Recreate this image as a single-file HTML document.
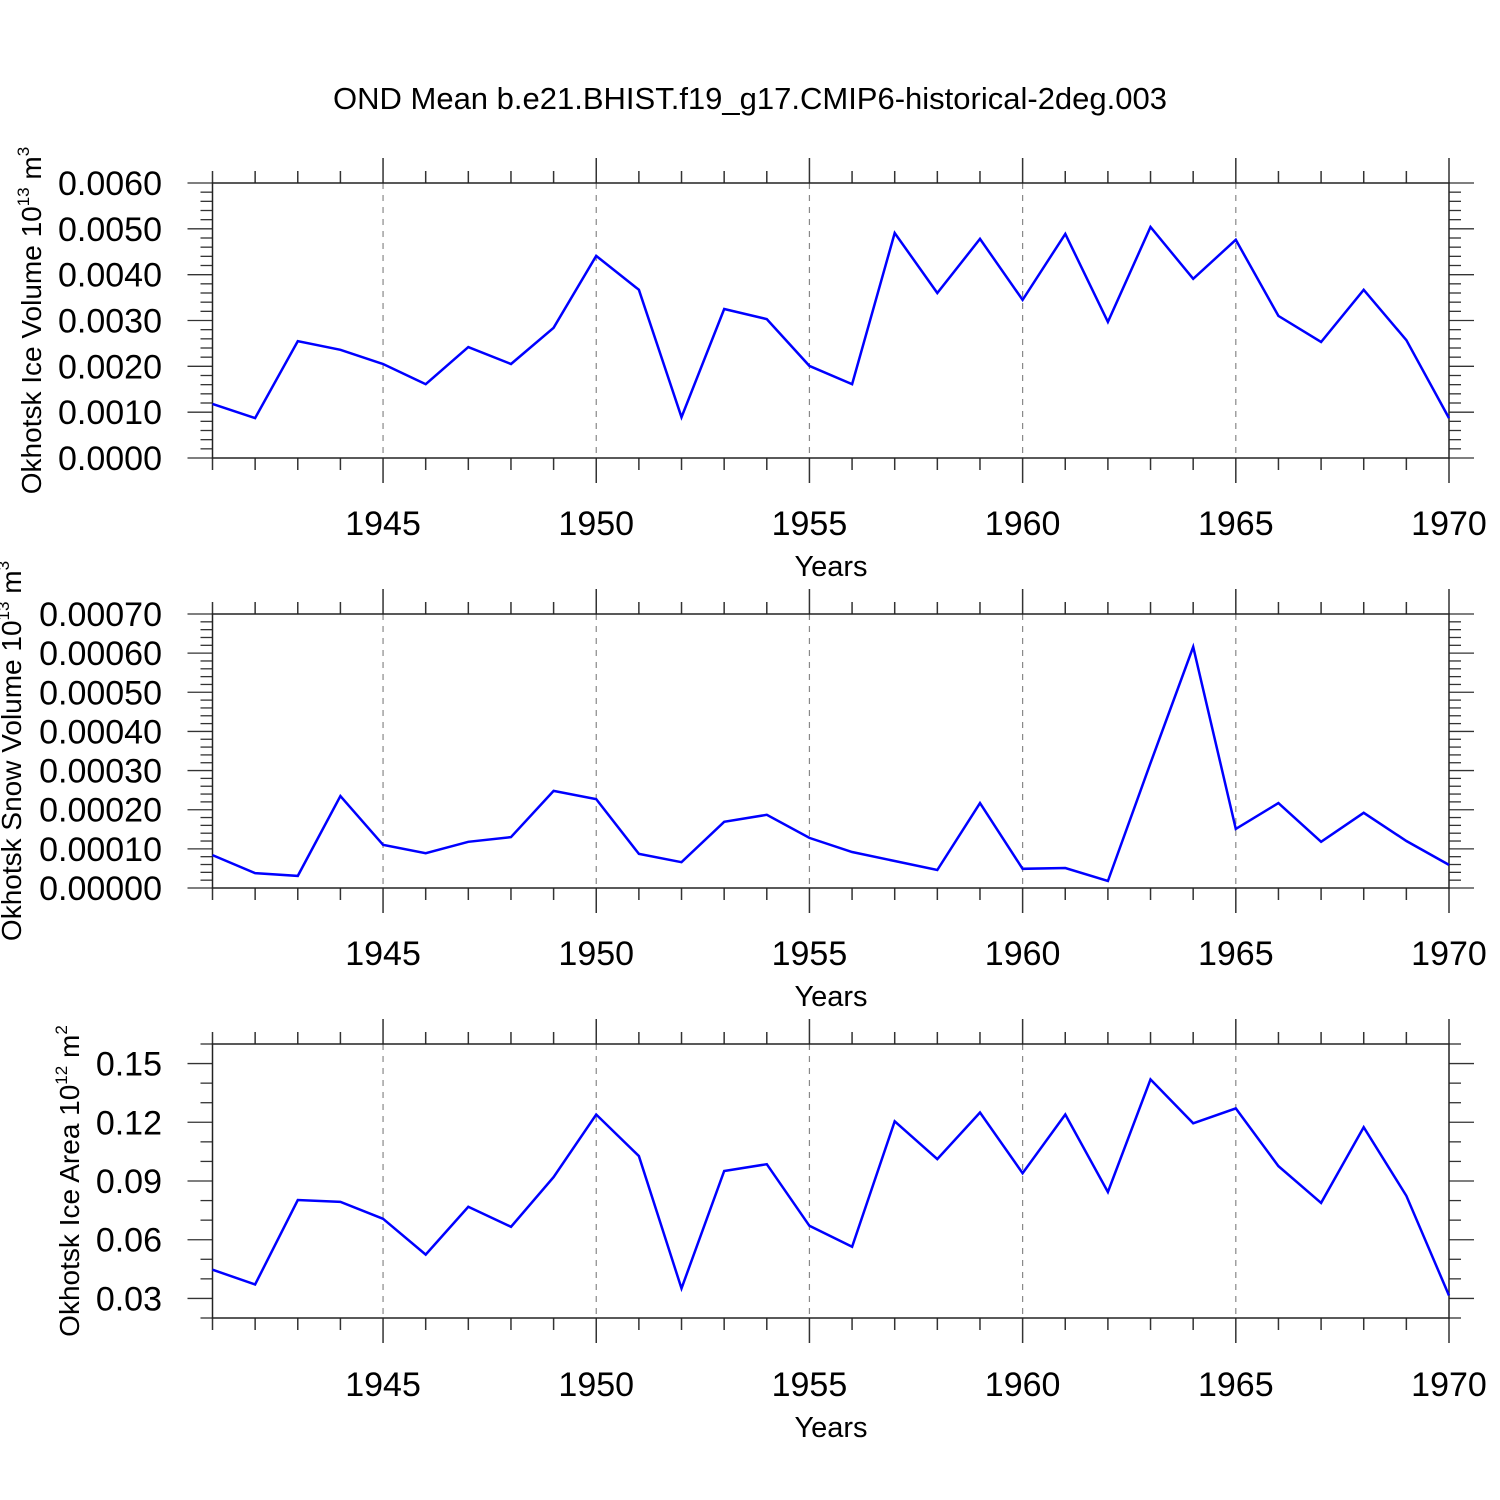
<!DOCTYPE html>
<html><head><meta charset="utf-8"><style>
html,body{margin:0;padding:0;background:#fff;}
svg{display:block;font-family:"Liberation Sans",sans-serif;}
</style></head><body>
<svg id="chart" width="1500" height="1500" viewBox="0 0 1500 1500" xmlns="http://www.w3.org/2000/svg">
<text x="750" y="109" font-size="31" text-anchor="middle">OND Mean b.e21.BHIST.f19_g17.CMIP6-historical-2deg.003</text>
</svg>
<script>
const years = [];
for (let y = 1941; y <= 1970; y++) years.push(y);
const iceVolume = [0.00118,0.00087,0.00255,0.00236,0.00205,0.00161,0.00242,0.00205,0.00284,0.00441,0.00367,0.00089,0.00325,0.00303,0.00201,0.00161,0.00491,0.00360,0.00478,0.00345,0.00489,0.00297,0.00504,0.00391,0.00476,0.00310,0.00253,0.00367,0.00257,0.00087];
const snowVolume = [0.000084,0.000038,0.000031,0.000235,0.000110,0.000089,0.000118,0.000130,0.000248,0.000227,0.000087,0.000066,0.000169,0.000187,0.000128,0.000092,0.000069,0.000046,0.000217,0.000049,0.000051,0.000018,0.000319,0.000616,0.000151,0.000217,0.000118,0.000192,0.000120,0.000059];
const iceArea = [0.0447,0.0371,0.0803,0.0793,0.0707,0.0524,0.0768,0.0666,0.0920,0.1240,0.1027,0.0351,0.0951,0.0986,0.0671,0.0564,0.1205,0.1012,0.1250,0.0940,0.1240,0.0844,0.1419,0.1195,0.1271,0.0976,0.0788,0.1175,0.0824,0.0315];
const xTickLabels = [1945,1950,1955,1960,1965,1970];
const iceVolTicks = ["0.0000","0.0010","0.0020","0.0030","0.0040","0.0050","0.0060"];
const snowTicks = ["0.00000","0.00010","0.00020","0.00030","0.00040","0.00050","0.00060","0.00070"];
const areaTicks = ["0.03","0.06","0.09","0.12","0.15"];

const NS = "http://www.w3.org/2000/svg";
const svg = document.getElementById('chart');
function mk(tag, attrs, parent) {
  const e = document.createElementNS(NS, tag);
  for (const k in attrs) e.setAttribute(k, attrs[k]);
  (parent || svg).appendChild(e);
  return e;
}
const X0 = 212.5, X1 = 1449;
const xs = y => X0 + (y - 1941) * (X1 - X0) / 29;

const panels = [
  {name:'ice-volume', top:183, bot:458, ymin:0, ymax:0.006, data:iceVolume, ticks:iceVolTicks, minor:0.0002,
   title:'Okhotsk Ice Volume 10', sup:'13', unit:' m', usup:'3', tx:41, years:535, yl:566},
  {name:'snow-volume', top:614, bot:888, ymin:0, ymax:0.0007, data:snowVolume, ticks:snowTicks, minor:0.00002,
   title:'Okhotsk Snow Volume 10', sup:'13', unit:' m', usup:'3', tx:21, years:965, yl:996},
  {name:'ice-area', top:1044, bot:1318, ymin:0.02, ymax:0.16, data:iceArea, ticks:areaTicks, minor:0.01,
   title:'Okhotsk Ice Area 10', sup:'12', unit:' m', usup:'2', tx:79, years:1396, yl:1427}
];

panels.forEach(p => {
  const g = mk('g', {});
  
  
  const ys = v => p.bot - (v - p.ymin) * (p.bot - p.top) / (p.ymax - p.ymin);
  xTickLabels.slice(0, 5).forEach(yr => {
    const l = mk('line', {x1:xs(yr), x2:xs(yr), y1:p.top, y2:p.bot, stroke:'#888', 'stroke-width':1.2, 'stroke-dasharray':'6,6'}, g);
    
    
  });
  years.forEach(yr => {
    const major = yr % 5 === 0;
    const len = major ? 25 : 12;
    const x = xs(yr);
    mk('line', {x1:x, x2:x, y1:p.top, y2:p.top - len, stroke:'#333', 'stroke-width':1.5}, g);
    mk('line', {x1:x, x2:x, y1:p.bot, y2:p.bot + len, stroke:'#333', 'stroke-width':1.5}, g);
  });
  xTickLabels.forEach(yr => {
    const t = mk('text', {x:xs(yr), y:p.years, 'font-size':34, 'text-anchor':'middle'}, g);
    t.textContent = yr;
    
    
  });
  const nMin = Math.round((p.ymax - p.ymin) / p.minor);
  for (let i = 0; i <= nMin; i++) {
    const v = p.ymin + i * p.minor;
    const isMajor = p.ticks.some(s => Math.abs(parseFloat(s) - v) < p.minor / 10);
    const len = isMajor ? 25 : 12;
    const y = ys(v);
    mk('line', {x1:X0, x2:X0 - len, y1:y, y2:y, stroke:'#333', 'stroke-width':1.3}, g);
    mk('line', {x1:X1, x2:X1 + len, y1:y, y2:y, stroke:'#333', 'stroke-width':1.3}, g);
  }
  p.ticks.forEach(s => {
    const t = mk('text', {x:162, y:ys(parseFloat(s)) + 12, 'font-size':34, 'text-anchor':'end'}, g);
    t.textContent = s;
    
    
  });
  const fr = mk('rect', {x:X0, y:p.top, width:X1 - X0, height:p.bot - p.top, fill:'none', stroke:'#222', 'stroke-width':1.5}, g);
  
  
  const pts = p.data.map((v, i) => xs(years[i]).toFixed(1) + ',' + ys(v).toFixed(1)).join(' ');
  const pl = mk('polyline', {points:pts, fill:'none', stroke:'#0000ff', 'stroke-width':2.5, 'stroke-linejoin':'miter'}, g);
  
  
  const xt = mk('text', {x:831, y:p.yl + 10, 'font-size':29, 'text-anchor':'middle'}, g);
  xt.textContent = 'Years';
  
  
  const cy = (p.top + p.bot) / 2;
  const yt = mk('text', {x:0, y:0, 'font-size':28, 'text-anchor':'middle', transform:'translate(' + p.tx + ',' + cy + ') rotate(-90)'}, g);
  
  
  yt.appendChild(document.createTextNode(p.title));
  const s1 = mk('tspan', {dy:-12, 'font-size':17}, yt); s1.textContent = p.sup;
  const s2 = mk('tspan', {dy:12}, yt); s2.textContent = p.unit;
  const s3 = mk('tspan', {dy:-12, 'font-size':17}, yt); s3.textContent = p.usup;
});
</script>
</body></html>
